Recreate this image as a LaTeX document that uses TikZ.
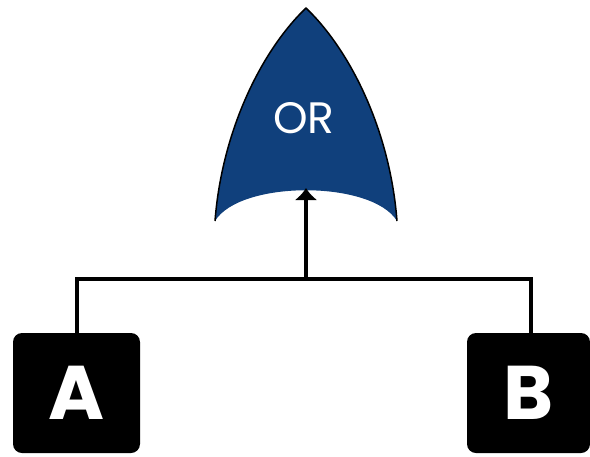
\documentclass[tikz,border=0pt]{standalone}
\usepackage{fontspec}
\setmainfont{Poppins}
\usetikzlibrary{arrows.meta}
\definecolor{gateblue}{HTML}{10407C}

\begin{document}
\begin{tikzpicture}[x=1pt, y=-1pt,
  wire/.style={line width=4pt, line cap=butt, line join=miter},
  gateedge/.style={line width=1.5pt, line join=round},
  event/.style={fill=black, rounded corners=9pt, inner sep=0pt, text=white, font=\bfseries\fontsize{76}{76}\selectfont},
  gatelabel/.style={text=white, inner sep=0pt, font=\fontsize{44}{44}\selectfont}]
  \useasboundingbox (0,0) rectangle (590,456);
  % gate
  \fill[gateblue] (215,221) .. controls (222,130) and (262,50) .. (306,8)
    .. controls (350,50) and (390,130) .. (397,221)
    .. controls (372,180) and (240,180) .. (215,221) -- cycle;
  \draw[gateedge] (215,221) .. controls (222,130) and (262,50) .. (306,8)
    .. controls (350,50) and (390,130) .. (397,221);
  \node[gatelabel] (orlabel) at (304,118) {OR};
  % events
  \node[event, minimum width=127pt, minimum height=120pt] (A) at (76.5,393) {A};
  \node[event, minimum width=123pt, minimum height=120pt] (B) at (528.5,393) {B};
  \coordinate (gatein) at (306,188);
  \coordinate (join) at (306,279);
  \coordinate (Aup) at (A.north |- join);
  \coordinate (Bup) at ([xshift=2.5pt]B.north |- join);
  \coordinate (Bout) at ([xshift=2.5pt]B.north);
  % wires
  \draw[wire] (A.north) -- (Aup) -- (Bup) -- (Bout);
  \draw[wire, -{Latex[length=12pt,width=23pt]}] (join) -- (gatein);
\end{tikzpicture}
\end{document}
